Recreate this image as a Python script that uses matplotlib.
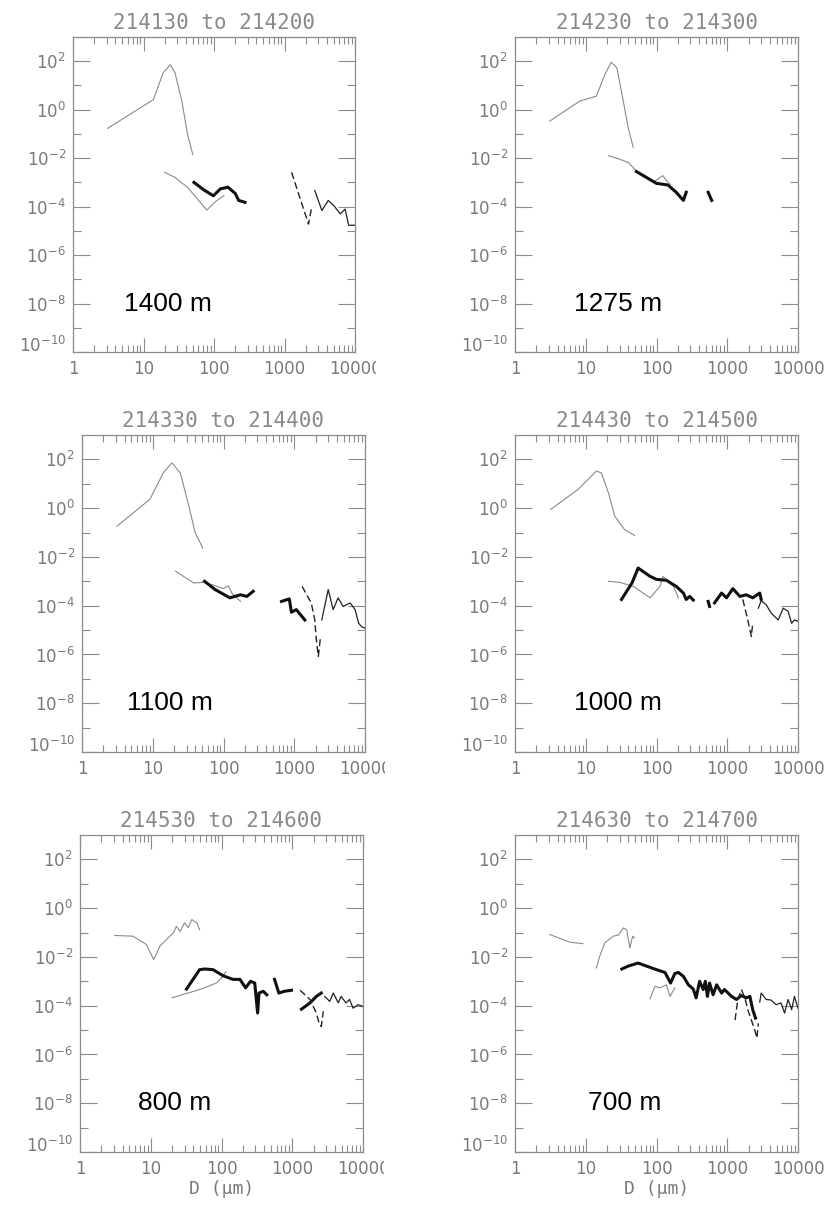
"""
Six-panel particle size distributions (log N vs log D) at descending
altitudes, one panel per 30 s time window.
"""

import matplotlib
matplotlib.use("Agg")
import matplotlib.pyplot as plt
from matplotlib.ticker import FixedLocator, FixedFormatter, LogLocator, NullFormatter
from matplotlib.transforms import Bbox, TransformedBbox, ScaledTranslation

GRAY = "#8a8a8a"
AXCOL = "#8c8c8c"
LABCOL = "#7a7a7a"

# ---- data: each series is a list of (D [um], N) segments ----
# 214130-214200, 1400 m
P1_GRAY = [
    ([3.1, 13.8, 19, 24, 28, 35, 42, 50],
     [0.17, 2.6, 33, 72, 33, 2.3, 0.1, 0.014]),
    ([20, 28, 42, 79, 110, 138],
     [2.6e-3, 1.6e-3, 6.3e-4, 7.2e-5, 1.8e-4, 2.8e-4]),
]
P1_THICK = [
    ([52, 71, 98, 123, 158, 200, 224, 275],
     [1e-3, 5e-4, 2.8e-4, 5.4e-4, 6.3e-4, 3.5e-4, 1.8e-4, 1.5e-4]),
]
P1_DASH = [
    ([1260, 2190, 2400], [2.6e-3, 1.9e-5, 7.9e-5]),
]
P1_THIN = [
    ([2690, 3390, 4170, 5010, 6170, 7240, 8130, 10000],
     [4.6e-4, 6.9e-5, 1.8e-4, 1.1e-4, 5e-5, 7.9e-5, 1.7e-5, 1.7e-5]),
]

# 214230-214300, 1275 m
P2_GRAY = [
    ([3.1, 8.3, 14.1, 18.6, 22.9, 27.5, 33.9, 39.8, 46.8],
     [0.34, 2.3, 3.6, 28, 91, 54, 2.3, 0.18, 0.028]),
    ([21, 30, 40, 52, 89, 123, 138, 158],
     [1.26e-2, 9.1e-3, 6.6e-3, 3.0e-3, 1e-3, 1.9e-3, 1.2e-3, 7.9e-4]),
]
P2_THICK = [
    ([52, 72, 100, 145, 190, 240, 263],
     [2.8e-3, 1.6e-3, 9.1e-4, 7.8e-4, 3.9e-4, 1.8e-4, 3.9e-4]),
    ([537, 603], [3.9e-4, 1.8e-4]),
]
P2_DASH = []
P2_THIN = []

# 214330-214400, 1100 m
P3_GRAY = [
    ([3.1, 9.1, 14.1, 18.6, 24.5, 32.4, 39.8, 51],
     [0.18, 2.3, 28, 72, 28, 1.2, 0.098, 0.023]),
    ([21, 38, 52, 71, 100, 117, 132, 174],
     [2.6e-3, 8.5e-4, 9.1e-4, 7.1e-4, 5e-4, 6.6e-4, 3.2e-4, 1.5e-4]),
]
P3_THICK = [
    ([54, 76, 123, 174, 214, 263],
     [1e-3, 4.6e-4, 2.1e-4, 2.8e-4, 2.4e-4, 3.9e-4]),
    ([661, 851, 912, 1070, 1410],
     [1.5e-4, 1.9e-4, 5.4e-5, 6.9e-5, 2.6e-5]),
]
P3_DASH = [
    ([1290, 1585, 1740, 1950, 2040, 2190, 2340],
     [6.2e-4, 2.1e-4, 1.3e-4, 2.6e-5, 4.7e-6, 8.3e-7, 4.7e-6]),
]
P3_THIN = [
    ([2450, 3020, 3550, 4170, 4900, 6170, 7240, 8130, 8910, 10000],
     [2.6e-5, 4.6e-4, 6.9e-5, 2.1e-4, 9.3e-5, 1.3e-4, 6.9e-5, 1.9e-5, 1.4e-5, 1.2e-5]),
]

# 214430-214500, 1000 m
P4_GRAY = [
    ([3.2, 7.8, 14.1, 16.6, 20.9, 25.7, 35.5, 49],
     [0.89, 5.9, 33, 28, 4.3, 0.47, 0.13, 0.076]),
    ([21, 30, 47, 81, 112, 123, 174, 204],
     [1e-3, 9.1e-4, 6.2e-4, 2.1e-4, 6.2e-4, 1.6e-3, 6.2e-4, 2.1e-4]),
]
P4_THICK = [
    ([32, 45, 55, 81, 100, 138, 190, 240, 263, 295, 331],
     [1.8e-4, 8.5e-4, 3.5e-3, 1.6e-3, 1.2e-3, 1.1e-3, 6.2e-4, 3.3e-4, 1.8e-4, 2.4e-4, 1.7e-4]),
    ([537, 562], [1.5e-4, 9.3e-5]),
    ([661, 832, 977, 1200, 1510, 1860, 2290, 2880, 3020],
     [1.3e-4, 3.3e-4, 2.1e-4, 5e-4, 2.4e-4, 2.8e-4, 2.1e-4, 3.3e-4, 1.8e-4]),
]
P4_DASH = [
    ([1660, 1950, 2190, 2290], [1.8e-4, 2.6e-5, 5.5e-6, 1.9e-5]),
]
P4_THIN = [
    ([2750, 3020, 3550, 4170, 5250, 6170, 7240, 8130, 8910, 10000],
     [7.9e-5, 1.6e-4, 1.1e-4, 5e-5, 2.6e-5, 7.9e-5, 5.9e-5, 1.9e-5, 2.6e-5, 2.3e-5]),
]

# 214530-214600, 800 m
P5_GRAY = [
    ([3.1, 5.6, 8.7, 11, 13.5, 18.6, 21, 23, 26, 30, 34, 38, 45, 49],
     [0.076, 0.071, 0.032, 0.0078, 0.028, 0.071, 0.098, 0.18, 0.11, 0.25, 0.16, 0.34, 0.25, 0.13]),
    ([20, 49, 85, 105, 115],
     [2.1e-4, 4.6e-4, 8.5e-4, 1.6e-3, 2.5e-3]),
]
P5_THICK = [
    ([32, 49, 58, 76, 105, 145, 182, 219, 257, 295, 324, 339, 389, 437],
     [4.8e-4, 3e-3, 3.2e-3, 3e-3, 1.7e-3, 1.2e-3, 1.2e-3, 5.4e-4, 1e-3, 8.5e-4, 5e-5, 3.3e-4, 3.9e-4, 2.8e-4]),
    ([562, 646, 776, 977], [1.2e-3, 3.3e-4, 3.9e-4, 4.3e-4]),
    ([1350, 1780, 2190, 2570], [7.2e-5, 1.3e-4, 2.4e-4, 3.3e-4]),
]
P5_DASH = [
    ([1290, 1780, 2190, 2400, 2570, 2750],
     [4.3e-4, 1.8e-4, 5e-5, 1.9e-5, 1.4e-5, 5.9e-5]),
]
P5_THIN = [
    ([2880, 3390, 3800, 4470, 4900, 5750, 6460, 7240, 8510, 10000],
     [2.4e-4, 1.5e-4, 3.3e-4, 1.3e-4, 2.4e-4, 1.3e-4, 1.8e-4, 7.9e-5, 1.1e-4, 9.3e-5]),
]

# 214630-214700, 700 m
P6_GRAY = [
    ([3.1, 6.0, 9.1], [0.083, 0.04, 0.035]),
    ([14.1, 15.8, 18.6, 24.5, 29, 34, 38, 42, 46, 49],
     [3.5e-3, 0.011, 0.038, 0.071, 0.079, 0.155, 0.126, 0.023, 0.071, 0.06]),
    ([81, 95, 112, 138, 155, 182],
     [1.9e-4, 6.2e-4, 5.4e-4, 7.2e-4, 2.4e-4, 5.4e-4]),
]
P6_THICK = [
    ([32.4, 39.8, 55, 72.4, 100, 132, 158, 182, 204, 240, 282, 331, 363, 407, 457,
      490, 525, 562, 631, 708, 832, 912, 1150, 1350, 1585, 1860, 2090, 2290, 2510],
     [3.2e-3, 4.2e-3, 5.6e-3, 4.2e-3, 3.0e-3, 2.3e-3, 8.5e-4, 2.1e-3, 2.3e-3, 1.6e-3,
      7.2e-4, 4.8e-4, 2.1e-4, 1e-3, 4.6e-4, 1e-3, 2.4e-4, 8.5e-4, 2.8e-4, 7.2e-4,
      3.3e-4, 4.6e-4, 2.4e-4, 1.8e-4, 2.6e-4, 2.1e-4, 2.4e-4, 6.9e-5, 3.1e-5]),
]
P6_DASH = [
    ([1290, 1410, 1585, 1780, 1950, 2190, 2450, 2630, 2750],
     [2.6e-5, 1.8e-4, 4.6e-4, 2e-4, 6.9e-5, 2.6e-5, 1e-5, 4.7e-6, 1.9e-5]),
]
P6_THIN = [
    ([2880, 3020, 3550, 4170, 4900, 5750, 6460, 7240, 8130, 8910, 10000],
     [1.4e-4, 3.3e-4, 1.8e-4, 1.7e-4, 1.1e-4, 1.3e-4, 5e-5, 1.8e-4, 6.9e-5, 2.4e-4, 7.9e-5]),
]

TITLES = ["214130 to 214200", "214230 to 214300", "214330 to 214400",
          "214430 to 214500", "214530 to 214600", "214630 to 214700"]
ALTITUDES = ["1400 m", "1275 m", "1100 m", "1000 m", "800 m", "700 m"]

Y_MAJOR = [1e-10, 1e-8, 1e-6, 1e-4, 1e-2, 1e0, 1e2]
Y_MINOR = [1e-9, 1e-7, 1e-5, 1e-3, 1e-1, 1e1]
Y_LABELS = [r"$10^{%d}$" % e for e in (-10, -8, -6, -4, -2, 0, 2)]
X_MAJOR = [1, 10, 100, 1000, 10000]
X_LABELS = ["1", "10", "100", "1000", "10000"]

SERIES = [
    (P1_GRAY, P1_THICK, P1_DASH, P1_THIN),
    (P2_GRAY, P2_THICK, P2_DASH, P2_THIN),
    (P3_GRAY, P3_THICK, P3_DASH, P3_THIN),
    (P4_GRAY, P4_THICK, P4_DASH, P4_THIN),
    (P5_GRAY, P5_THICK, P5_DASH, P5_THIN),
    (P6_GRAY, P6_THICK, P6_DASH, P6_THIN),
]

# layout (figure pixels: left, top, right, bottom) and altitude label x
W, H = 833, 1208
BOXES = [(73, 37, 355, 352), (515, 37, 798, 352),
         (82, 435, 365, 752), (515, 435, 798, 752),
         (80, 835, 363, 1152), (515, 835, 798, 1152)]
ALT_X = [5.3, 6.8, 4.3, 6.9, 6.6, 10.8]
# left-column images were cropped through the "10000" label
CLIP_X = {0: 376, 2: 385, 4: 384}


def style_axes(ax):
    ax.set_xscale("log")
    ax.set_yscale("log")
    ax.set_xlim(1, 1e4)
    ax.set_ylim(1e-10, 1e3)
    ax.xaxis.set_major_locator(FixedLocator(X_MAJOR))
    ax.xaxis.set_major_formatter(FixedFormatter(X_LABELS))
    ax.xaxis.set_minor_locator(LogLocator(base=10, subs=range(2, 10)))
    ax.xaxis.set_minor_formatter(NullFormatter())
    ax.yaxis.set_major_locator(FixedLocator(Y_MAJOR))
    ax.yaxis.set_major_formatter(FixedFormatter(Y_LABELS))
    ax.yaxis.set_minor_locator(FixedLocator(Y_MINOR))
    ax.yaxis.set_minor_formatter(NullFormatter())
    ax.tick_params(which="both", direction="in", top=True, right=True,
                   color=AXCOL, width=0.8, labelcolor=LABCOL, labelsize=12)
    ax.tick_params(axis="x", which="major", length=10, pad=6)
    ax.tick_params(axis="x", which="minor", length=5)
    ax.tick_params(axis="y", which="major", length=12, pad=5)
    ax.tick_params(axis="y", which="minor", length=6)
    for sp in ax.spines.values():
        sp.set_color(AXCOL)
        sp.set_linewidth(0.9)


fig = plt.figure(figsize=(W / 100, H / 100), dpi=100)

for i, (gray, thick, dash, thin) in enumerate(SERIES):
    l, t, r, b = BOXES[i]
    ax = fig.add_axes([l / W, 1 - b / H, (r - l) / W, (b - t) / H])
    style_axes(ax)

    for d, n in gray:
        ax.plot(d, n, color=GRAY, lw=0.8)
    for d, n in thick:
        ax.plot(d, n, color="#111111", lw=2.2, solid_joinstyle="round")
    for d, n in dash:
        ax.plot(d, n, color="#222222", lw=1.0, ls=(0, (5, 2.5)))
    for d, n in thin:
        ax.plot(d, n, color="#222222", lw=0.9)

    ax.set_title(TITLES[i], color=GRAY, fontsize=15, family="DejaVu Sans Mono", pad=6)
    ax.text(ALT_X[i], 1e-8, ALTITUDES[i], fontsize=19, family="Liberation Sans",
            color="black", ha="left", va="center")
    if i >= 4:
        ax.set_xlabel("D (μm)", color=LABCOL, fontsize=13,
                      family="DejaVu Sans Mono", labelpad=1)

    # lowest y label sits a little above its tick, as in the original
    low = ax.get_yticklabels()[0]
    low.set_transform(low.get_transform()
                      + ScaledTranslation(0, 6 / 72, fig.dpi_scale_trans))

    if i in CLIP_X:
        clip = TransformedBbox(Bbox([[0, 0], [CLIP_X[i] / W, 1]]), fig.transFigure)
        lab = ax.get_xticklabels()[-1]
        lab.set_clip_on(True)
        lab.set_clip_box(clip)

fig.savefig("out.png", dpi=100)
